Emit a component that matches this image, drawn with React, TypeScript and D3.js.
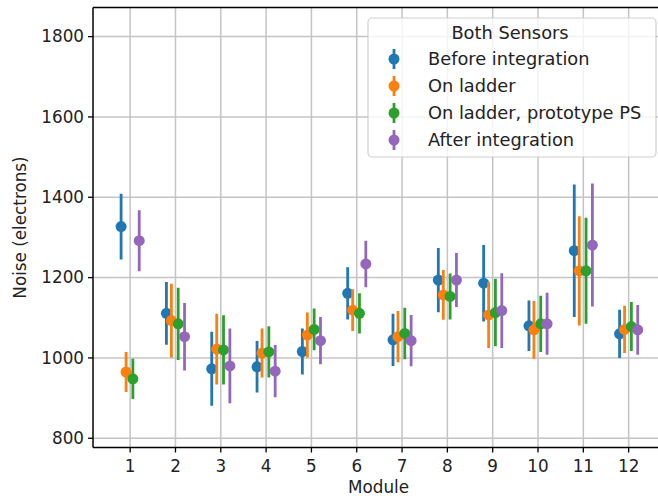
import React from "react";
import * as d3 from "d3";

const modules = [1, 2, 3, 4, 5, 6, 7, 8, 9, 10, 11, 12];
const seriesNames = ["Before integration", "On ladder", "On ladder, prototype PS", "After integration"];
const seriesColors = ["#1f77b4", "#ff7f0e", "#2ca02c", "#9467bd"];
const seriesOffsets = [-0.2, -0.09, 0.06, 0.2];

const beforeMean = [1327, 1111, 973, 978, 1016, 1161, 1045, 1194, 1186, 1080, 1267, 1060];
const beforeErr = [82, 78, 92, 64, 57, 65, 65, 80, 95, 63, 165, 60];
const ladderMean = [965, 1093, 1022, 1012, 1057, 1119, 1053, 1157, 1107, 1070, 1217, 1071];
const ladderErr = [50, 92, 88, 61, 56, 52, 64, 62, 82, 72, 136, 59];
const protoMean = [948, 1085, 1020, 1015, 1071, 1111, 1061, 1153, 1113, 1085, 1217, 1078];
const protoErr = [50, 90, 86, 64, 52, 50, 64, 57, 84, 70, 132, 61];
const afterMean = [1292, 1053, 980, 967, 1043, 1234, 1043, 1194, 1118, 1085, 1281, 1070];
const afterErr = [76, 84, 93, 65, 59, 58, 64, 67, 93, 77, 153, 62];

const yTicks = [800, 1000, 1200, 1400, 1600, 1800];
const legendTitle = "Both Sensors";
const xLabel = "Module";
const yLabel = "Noise (electrons)";

const W = 658;
const H = 496;
const FONT = "DejaVu Sans, sans-serif";

export default function App() {
  const left = 93;
  const right = 664;
  const top = 7.5;
  const bottom = 447.5;
  const x = d3.scaleLinear().domain([0.18, 12.78]).range([left, right]);
  const y = d3.scaleLinear().domain([777, 1872.5]).range([bottom, top]);

  const means = [beforeMean, ladderMean, protoMean, afterMean];
  const errs = [beforeErr, ladderErr, protoErr, afterErr];

  const legX = 368;
  const legY = 18;
  const legW = 288;
  const legH = 139;
  const legFont = 17.8;

  return (
    <svg width={W} height={H} style={{ position: "absolute", left: 0, top: 0, background: "#fff" }}>
      <defs>
        <clipPath id="plotclip">
          <rect x={left} y={top} width={right - left} height={bottom - top} />
        </clipPath>
      </defs>
      <rect x={0} y={0} width={W} height={H} fill="#fff" />
      {/* grid */}
      <g stroke="#c4c4c4" strokeWidth={1.5}>
        {modules.map((m) => (
          <line key={"gx" + m} x1={x(m)} x2={x(m)} y1={top} y2={bottom} />
        ))}
        {yTicks.map((t) => (
          <line key={"gy" + t} x1={left} x2={right} y1={y(t)} y2={y(t)} />
        ))}
      </g>
      {/* data */}
      <g clipPath="url(#plotclip)">
        {means.map((arr, si) => (
          <g key={"s" + si}>
            {arr.map((v, i) => {
              const cx = x(modules[i] + seriesOffsets[si]);
              return (
                <g key={i}>
                  <line
                    x1={cx}
                    x2={cx}
                    y1={y(v - errs[si][i])}
                    y2={y(v + errs[si][i])}
                    stroke={seriesColors[si]}
                    strokeWidth={2.8}
                  />
                  <circle cx={cx} cy={y(v)} r={5.5} fill={seriesColors[si]} />
                </g>
              );
            })}
          </g>
        ))}
      </g>
      {/* spines */}
      <g stroke="#000" strokeWidth={1.5} fill="none">
        <line x1={left} x2={left} y1={top} y2={bottom} />
        <line x1={left} x2={right} y1={bottom} y2={bottom} />
        <line x1={left} x2={right} y1={top} y2={top} />
      </g>
      {/* y ticks */}
      {yTicks.map((t) => (
        <g key={"yt" + t}>
          <line x1={left - 5} x2={left} y1={y(t)} y2={y(t)} stroke="#000" strokeWidth={1.3} />
          <text x={left - 9} y={y(t)} dy="0.35em" textAnchor="end" fontSize={16.8} fontFamily={FONT} fill="#222">
            {t}
          </text>
        </g>
      ))}
      {/* x ticks */}
      {modules.map((m) => (
        <g key={"xt" + m}>
          <line x1={x(m)} x2={x(m)} y1={bottom} y2={bottom + 5} stroke="#000" strokeWidth={1.3} />
          <text x={x(m)} y={bottom + 24} textAnchor="middle" fontSize={16.8} fontFamily={FONT} fill="#222">
            {m}
          </text>
        </g>
      ))}
      <text x={(left + right) / 2} y={493} textAnchor="middle" fontSize={16.8} fontFamily={FONT} fill="#222">
        {xLabel}
      </text>
      <text
        transform={`translate(${26},${(top + bottom) / 2}) rotate(-90)`}
        textAnchor="middle"
        fontSize={16.8}
        fontFamily={FONT}
        fill="#222"
      >
        {yLabel}
      </text>
      {/* legend */}
      <g>
        <rect x={legX} y={legY} width={legW} height={legH} rx={4} fill="#fff" fillOpacity={0.8} stroke="#d0d0d0" strokeWidth={1.2} />
        <text x={legX + legW / 2 - 2} y={legY + 21} textAnchor="middle" fontSize={legFont} fontFamily={FONT} fill="#222">
          {legendTitle}
        </text>
        {seriesNames.map((n, i) => {
          const ry = legY + 41 + i * 27;
          return (
            <g key={"lg" + i}>
              <line x1={legX + 26} x2={legX + 26} y1={ry - 10} y2={ry + 10} stroke={seriesColors[i]} strokeWidth={2.8} />
              <circle cx={legX + 26} cy={ry} r={5.5} fill={seriesColors[i]} />
              <text x={legX + 60} y={ry} dy="0.35em" fontSize={legFont} fontFamily={FONT} fill="#222">
                {n}
              </text>
            </g>
          );
        })}
      </g>
    </svg>
  );
}
